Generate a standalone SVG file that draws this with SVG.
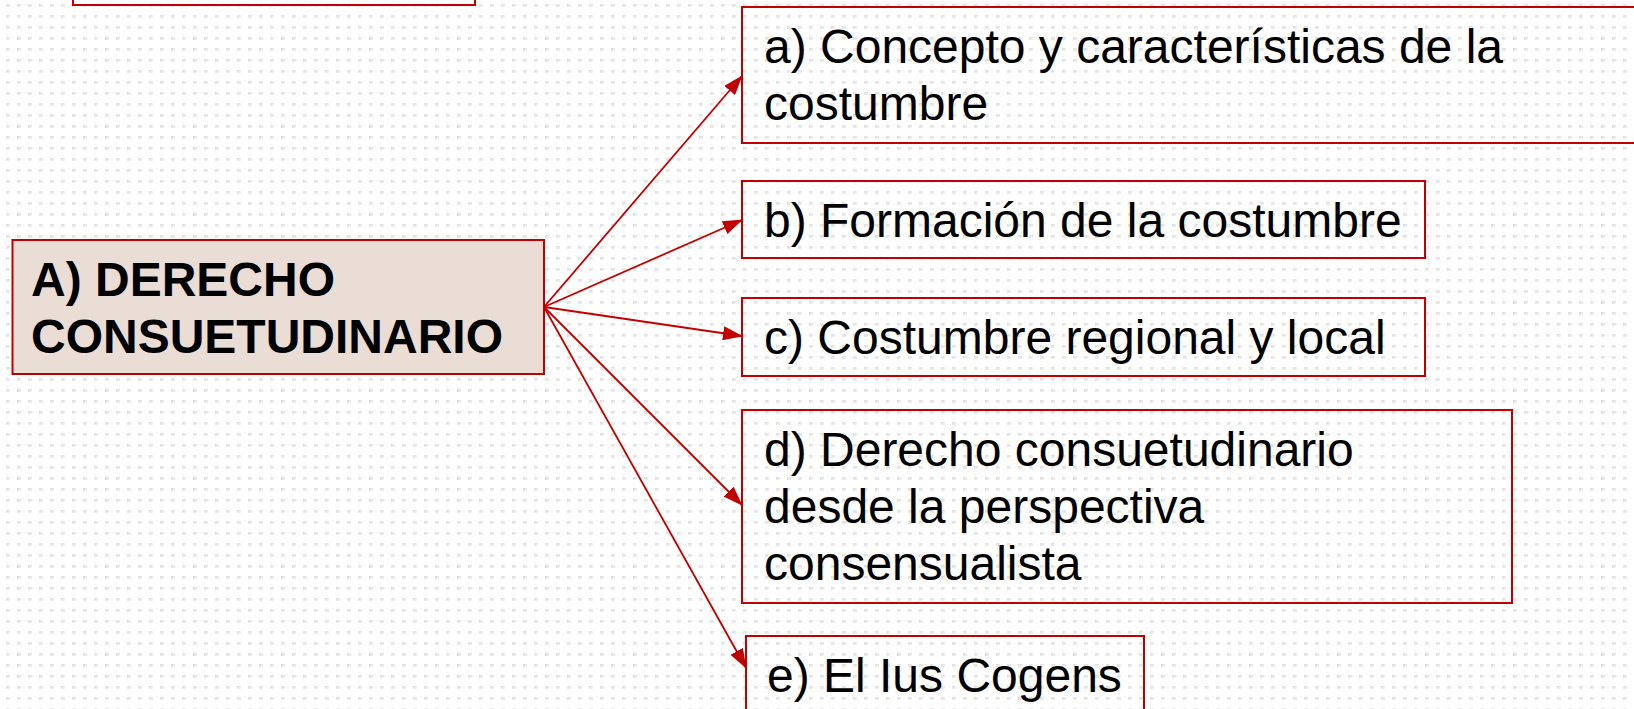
<svg xmlns="http://www.w3.org/2000/svg" width="1634" height="709" viewBox="0 0 1634 709">
  <defs>
    <linearGradient id="dotg" x1="0" y1="0" x2="1" y2="1">
      <stop offset="0" stop-color="#dcdcdc"/>
      <stop offset="1" stop-color="#f2f2f2"/>
    </linearGradient>
    <pattern id="dots" patternUnits="userSpaceOnUse" x="0" y="0" width="11" height="11">
      <rect x="6" y="4" width="4" height="3" fill="url(#dotg)"/>
    </pattern>
    <marker id="arr" viewBox="0 0 20 14" refX="19" refY="7" markerWidth="20" markerHeight="14" markerUnits="userSpaceOnUse" orient="auto">
      <path d="M0,0 L20,7 L0,14 z" fill="#C00000"/>
    </marker>
    <style>
      .box { fill: none; stroke: #C00000; stroke-width: 2; }
      .main { fill: #EADDD5; stroke: #C00000; stroke-width: 2; }
      .t { font-family: "Liberation Sans", Arial, sans-serif; font-size: 48px; fill: #000; }
      .tb { font-family: "Liberation Sans", Arial, sans-serif; font-size: 48px; font-weight: bold; fill: #000; }
      .conn line { stroke: #C00000; stroke-width: 1.8; marker-end: url(#arr); }
    </style>
  </defs>
  <rect x="0" y="0" width="1634" height="709" fill="#ffffff"/>
  <rect x="0" y="0" width="1634" height="709" fill="url(#dots)"/>

  <g id="top-box">
    <rect class="box" x="73" y="-60" width="402" height="65"/>
  </g>

  <g id="connectors" class="conn">
    <line x1="544" y1="307" x2="742" y2="76"/>
    <line x1="544" y1="307" x2="742" y2="220"/>
    <line x1="544" y1="307" x2="742" y2="336"/>
    <line x1="544" y1="307" x2="742" y2="505"/>
    <line x1="544" y1="307" x2="746" y2="668"/>
  </g>

  <g id="node-A">
    <rect class="main" x="12.5" y="240" width="531.5" height="134"/>
    <text class="tb" x="31" y="296">A) DERECHO</text>
    <text class="tb" x="31" y="353">CONSUETUDINARIO</text>
  </g>

  <g id="node-a">
    <rect class="box" x="742" y="7" width="1000" height="136"/>
    <text class="t" x="764" y="63">a) Concepto y características de la</text>
    <text class="t" x="764" y="120">costumbre</text>
  </g>

  <g id="node-b">
    <rect class="box" x="742" y="181" width="683" height="77"/>
    <text class="t" x="764" y="237">b) Formación de la costumbre</text>
  </g>

  <g id="node-c">
    <rect class="box" x="742" y="298" width="683" height="78"/>
    <text class="t" x="764" y="354">c) Costumbre regional y local</text>
  </g>

  <g id="node-d">
    <rect class="box" x="742" y="410" width="770" height="193"/>
    <text class="t" x="764" y="466">d) Derecho consuetudinario</text>
    <text class="t" x="764" y="523">desde la perspectiva</text>
    <text class="t" x="764" y="580">consensualista</text>
  </g>

  <g id="node-e">
    <rect class="box" x="746" y="636" width="398" height="80"/>
    <text class="t" x="767" y="692">e) El Ius Cogens</text>
  </g>
</svg>
